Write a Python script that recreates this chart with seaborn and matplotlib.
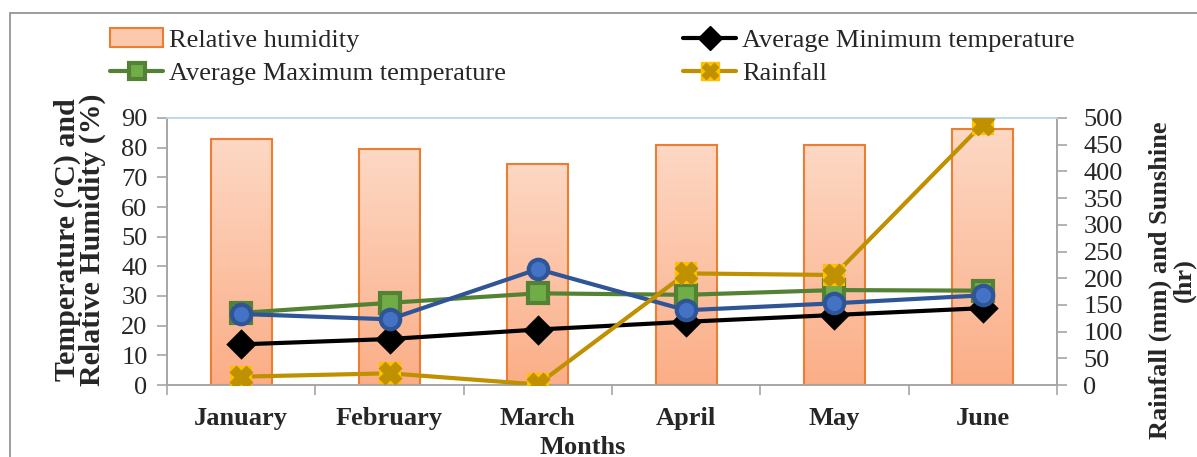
import numpy as np
import pandas as pd
import matplotlib
matplotlib.use("Agg")
import matplotlib.pyplot as plt
import seaborn as sns
from matplotlib.lines import Line2D
from matplotlib.patches import Patch, Rectangle
from matplotlib.colors import LinearSegmentedColormap

# ---------------- data ----------------
months = ["January", "February", "March", "April", "May", "June"]
humidity = [82.8, 79.5, 74.6, 80.9, 80.8, 86.3]        # %
max_temp = [24.3, 27.7, 30.9, 30.4, 32.0, 31.8]        # degC
min_temp = [13.7, 15.5, 18.7, 21.3, 23.6, 25.9]        # degC
rainfall = [15.6, 21.9, 1.0, 209, 206, 489]            # mm
sunshine = [133, 123, 217, 140, 153, 168]              # hr

df = pd.DataFrame({"Month": months, "RH": humidity, "Tmax": max_temp,
                   "Tmin": min_temp, "Rain": rainfall, "Sun": sunshine})

sns.set_theme(style="white")
plt.rcParams["font.family"] = ["Liberation Serif", "DejaVu Serif"]
FS = 19

fig = plt.figure(figsize=(11.97, 4.57), dpi=100)
ax = fig.add_axes([167 / 1197, 1 - 385 / 457, 890 / 1197, 267 / 457])

# frame around the chart
fig.patches.append(Rectangle((10 / 1197, -0.05), 1.2, 1 - 13 / 457 + 0.05,
                             transform=fig.transFigure, fill=False,
                             edgecolor="#8c8c8c", linewidth=1.2))

# ---- bars (relative humidity) ----
sns.barplot(data=df, x="Month", y="RH", order=months, color="#fbc3a4",
            width=0.41, ax=ax, zorder=2)
cmap = LinearSegmentedColormap.from_list("rh", ["#fdd8c4", "#fbae87"])
grad = np.linspace(0, 1, 256).reshape(-1, 1)
for p in ax.patches:
    x0, y0 = p.get_x(), p.get_y()
    w, h = p.get_width(), p.get_height()
    im = ax.imshow(grad, cmap=cmap, aspect="auto", origin="upper",
                   extent=[x0, x0 + w, y0, y0 + h], zorder=2)
    im.set_clip_path(p)
    p.set_facecolor("none")
    p.set_edgecolor("#ed7d31")
    p.set_linewidth(1.5)
    p.set_zorder(3)

# ---- temperature lines (left axis) ----
sns.pointplot(data=df, x="Month", y="Tmax", order=months, errorbar=None,
              color="#548235", marker="s", markersize=14,
              markerfacecolor="#70ad47", markeredgecolor="#548235",
              markeredgewidth=3, linewidth=3, ax=ax, zorder=4)
sns.pointplot(data=df, x="Month", y="Tmin", order=months, errorbar=None,
              color="black", marker="D", markersize=13,
              markerfacecolor="black", markeredgecolor="black",
              linewidth=3, ax=ax, zorder=4)

ax.set_xlim(-0.5, 5.5)
ax.set_ylim(0, 90)
ax.set_yticks(np.arange(0, 91, 10))

# ---- right axis: rainfall and sunshine ----
ax2 = ax.twinx()
sns.pointplot(data=df, x="Month", y="Sun", order=months, errorbar=None,
              color="#2f5597", marker="o", markersize=14,
              markerfacecolor="#4472c4", markeredgecolor="#2f5597",
              markeredgewidth=3, linewidth=3, ax=ax2, zorder=5)
sns.pointplot(data=df, x="Month", y="Rain", order=months, errorbar=None,
              color="#bf9000", marker="s", markersize=15,
              markerfacecolor="#ffc000", markeredgecolor="#ffc000",
              markeredgewidth=1.5, linewidth=3, ax=ax2, zorder=6)
sns.pointplot(data=df, x="Month", y="Rain", order=months, errorbar=None,
              color="#bf9000", marker="X", markersize=14,
              markerfacecolor="#bf9000", markeredgecolor="#bf9000",
              linestyle="none", ax=ax2, zorder=7)
ax2.set_xlim(-0.5, 5.5)
ax2.set_ylim(0, 500)
ax2.set_yticks(np.arange(0, 501, 50))

# ---- styling ----
for a in (ax, ax2):
    for s in a.spines.values():
        s.set_color("#a6a6a6")
        s.set_linewidth(1.2)
    a.spines["top"].set_color("#bdd7ee")
    a.grid(False)

ax.set_xlabel("Months", fontsize=FS, fontweight="bold")
ax.xaxis.set_label_coords((583 - 167) / 890, (385 - 447) / 267)
ax.xaxis.label.set_verticalalignment("center")

ax.set_ylabel("Temperature (°C) and\nRelative Humidity (%)", fontsize=21.5,
              fontweight="bold", linespacing=0.92)
ax.yaxis.set_label_coords((80 - 167) / 890, (385 - 240) / 267)
ax.yaxis.label.set_verticalalignment("center")
ax.yaxis.label.set_horizontalalignment("center")

ax2.set_ylabel("Rainfall (mm) and Sunshine\n(hr)", fontsize=FS,
               fontweight="bold", linespacing=1.05, rotation=90)
ax2.yaxis.set_label_coords((1172 - 167) / 890, (385 - 280) / 267)
ax2.yaxis.label.set_verticalalignment("center")
ax2.yaxis.label.set_horizontalalignment("center")

ax.set_xticks(range(len(months)))
ax.set_xticklabels(months, fontsize=FS, fontweight="bold")
ax.tick_params(axis="x", which="major", length=0, pad=16)
ax.set_xticks(np.arange(-0.5, 6, 1), minor=True)
ax.tick_params(axis="x", which="minor", length=7, width=1.2,
               color="#a6a6a6", direction="out", bottom=True)
ax.tick_params(axis="y", labelsize=FS, length=7, width=1.2,
               color="#a6a6a6", direction="out", left=True, pad=7)
ax2.tick_params(axis="y", labelsize=FS, length=7, width=1.2,
                color="#a6a6a6", direction="out", right=True, pad=12)
ax2.tick_params(axis="x", which="both", length=0)

# ---- legend ----
rain_sq = Line2D([], [], color="#bf9000", lw=3, marker="s", markersize=13,
                 markerfacecolor="#ffc000", markeredgecolor="#ffc000")
rain_x = Line2D([], [], color="#bf9000", lw=0, marker="X", markersize=12,
                markerfacecolor="#bf9000", markeredgecolor="#bf9000")
handles = [
    Patch(facecolor="#fcc9ad", edgecolor="#ed7d31", linewidth=1.5),
    Line2D([], [], color="#548235", lw=3, marker="s", markersize=12,
           markerfacecolor="#70ad47", markeredgecolor="#548235",
           markeredgewidth=3),
    Line2D([], [], color="black", lw=3, marker="D", markersize=12),
    (rain_sq, rain_x),
]
labels = ["Relative humidity", "Average Maximum temperature",
          "Average Minimum temperature", "Rainfall"]
fig.legend(handles=handles, labels=labels, ncol=2, loc="upper left",
           bbox_to_anchor=(92 / 1197, 1 - 10 / 457), frameon=False,
           fontsize=FS, handlelength=2.0, handletextpad=0.23,
           columnspacing=6.7, labelspacing=0.37, borderpad=0.2)

fig.savefig("out.png", dpi=100)
